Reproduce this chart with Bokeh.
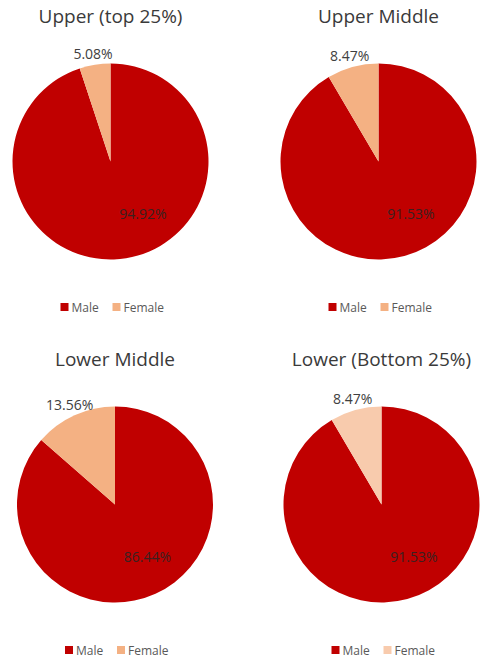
import math
from bokeh.plotting import figure
from bokeh.models import ColumnDataSource, Range1d
from bokeh.core.properties import value
from bokeh.embed import file_html
from bokeh.resources import INLINE

# ---- data ----
groups = ["Upper (top 25%)", "Upper Middle", "Lower Middle", "Lower (Bottom 25%)"]
series = ["Male", "Female"]
male_pct = [94.92, 91.53, 86.44, 91.53]
female_pct = [5.08, 8.47, 13.56, 8.47]

# ---- styles / layout ----
MALE_COLOR = "#C00000"
FEMALE_COLORS = ["#F4B183", "#F4B183", "#F4B183", "#F8CBAD"]
FONT = value("Open Sans")
PAGE_W, PAGE_H = 481, 664
W, H = 481, 664
centers_x = [110, 378, 114.5, 381]
centers_ypix = [161, 161, 504, 504]
R = 98

def Y(ypix):
    return PAGE_H - ypix

p = figure(width=W, height=H, output_backend="svg", toolbar_location=None,
           x_range=Range1d(0, W), y_range=Range1d(0, H),
           min_border=0)
p.axis.visible = False
p.grid.visible = False
p.outline_line_color = None
p.background_fill_color = "white"
p.border_fill_color = "white"

cx = centers_x
cy = [Y(v) for v in centers_ypix]

# wedges: Male clockwise from 12 o'clock, Female remaining slice
m_start = [math.pi / 2 - 2 * math.pi * m / 100 for m in male_pct]
m_end = [math.pi / 2] * 4
f_start = [math.pi / 2] * 4
f_end = [math.pi / 2 + 2 * math.pi * f / 100 for f in female_pct]

male_src = ColumnDataSource(dict(x=cx, y=cy, s=m_start, e=m_end))
fem_src = ColumnDataSource(dict(x=cx, y=cy, s=f_start, e=f_end, c=FEMALE_COLORS))
p.wedge(x="x", y="y", radius=R, start_angle="s", end_angle="e", source=male_src,
        fill_color=MALE_COLOR, line_color=None)
p.wedge(x="x", y="y", radius=R, start_angle="s", end_angle="e", source=fem_src,
        fill_color="c", line_color=None)

# data labels
male_lbl = ColumnDataSource(dict(
    x=[c + 0.33 * R for c in cx],
    y=[c - 0.53 * R for c in cy],
    t=[f"{m:.2f}%" for m in male_pct]))
p.text(x="x", y="y", text="t", source=male_lbl, text_font=FONT, text_font_size="14px",
       text_color="#3a2020", text_align="center", text_baseline="middle")

fb = [math.pi / 2 + math.pi * f / 100 for f in female_pct]
fem_lbl = ColumnDataSource(dict(
    x=[c + 1.12 * R * math.cos(a) for c, a in zip(cx, fb)],
    y=[c + 1.12 * R * math.sin(a) for c, a in zip(cy, fb)],
    t=[f"{f:.2f}%" for f in female_pct]))
p.text(x="x", y="y", text="t", source=fem_lbl, text_font=FONT, text_font_size="14px",
       text_color="#404040", text_align="center", text_baseline="middle")

# titles
title_src = ColumnDataSource(dict(x=cx, y=[c + 146 for c in cy], t=groups))
p.text(x="x", y="y", text="t", source=title_src, text_font=FONT, text_font_size="19px",
       text_color="#3a3a3a", text_align="center", text_baseline="middle")

# legends
leg_y = [c - 145.5 for c in cy]
p.scatter(x=[c - 46 for c in cx], y=leg_y, marker="square", size=8,
          fill_color=MALE_COLOR, line_color=None)
p.scatter(x=[c + 6 for c in cx], y=leg_y, marker="square", size=8,
          fill_color=FEMALE_COLORS, line_color=None)
p.text(x=[c - 39 for c in cx], y=leg_y, text=[series[0]] * 4, text_font=FONT,
       text_font_size="12px", text_color="#595959", text_align="left", text_baseline="middle")
p.text(x=[c + 13 for c in cx], y=leg_y, text=[series[1]] * 4, text_font=FONT,
       text_font_size="12px", text_color="#595959", text_align="left", text_baseline="middle")

open("out.html", "w").write(file_html(p, INLINE))
